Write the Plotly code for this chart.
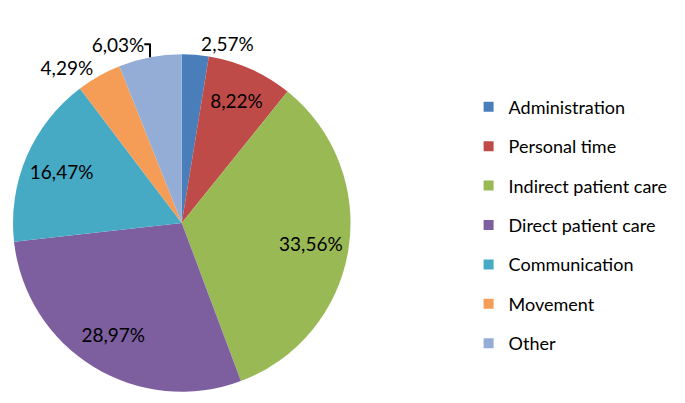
import plotly.graph_objects as go

categories = ["Administration", "Personal time", "Indirect patient care",
              "Direct patient care", "Communication", "Movement", "Other"]
values = [2.57, 8.22, 33.56, 28.97, 16.47, 4.29, 6.03]
colors = ["#4A7EBB", "#BE4B48", "#98B954", "#7D5FA0", "#46AAC5", "#F59D56", "#93ADD6"]
text_positions = ["outside", "inside", "inside", "inside", "inside", "outside", "outside"]

FONT = "Lato"
TEMPLATE = "%{value:.2f}%"
dom = dict(x=[0, 340 / 685], y=[18 / 403, 358 / 403])

fig = go.Figure()
# coloured pie (only its outside labels are kept, invisible, so geometry matches the label ring)
fig.add_trace(go.Pie(
    labels=categories, values=values, sort=False, direction="clockwise", rotation=0,
    marker=dict(colors=colors, line=dict(width=0)),
    textposition=text_positions, insidetextorientation="horizontal",
    texttemplate=[TEMPLATE if p == "outside" else "" for p in text_positions],
    textfont=dict(family=FONT, size=19, color="rgba(0,0,0,0)"),
    domain=dom, showlegend=False, hoverinfo="label+percent",
))
# transparent ring carrying the visible labels (places inside labels further out)
fig.add_trace(go.Pie(
    labels=categories, values=values, sort=False, direction="clockwise", rotation=0,
    hole=0.55,
    marker=dict(colors=["rgba(0,0,0,0)"] * len(values), line=dict(width=0)),
    texttemplate=TEMPLATE, textposition=text_positions,
    insidetextorientation="horizontal",
    textfont=dict(family=FONT, size=19, color="#000000"),
    domain=dom, showlegend=False, hoverinfo="skip",
))
for c, col in zip(categories, colors):
    fig.add_trace(go.Scatter(
        x=[None], y=[None], mode="markers", name=c, legendgroup=c,
        marker=dict(symbol="square", size=10, color=col),
    ))

fig.update_layout(
    width=685, height=403, margin=dict(l=0, r=0, t=0, b=0),
    paper_bgcolor="white", plot_bgcolor="white",
    separators=",.",
    xaxis=dict(visible=False), yaxis=dict(visible=False),
    legend=dict(x=0.670, y=0.80, xanchor="left", yanchor="top",
                font=dict(family=FONT, size=18, color="#000000"),
                tracegroupgap=13, itemwidth=30, traceorder="grouped"),
)
fig.write_html("out.html")
